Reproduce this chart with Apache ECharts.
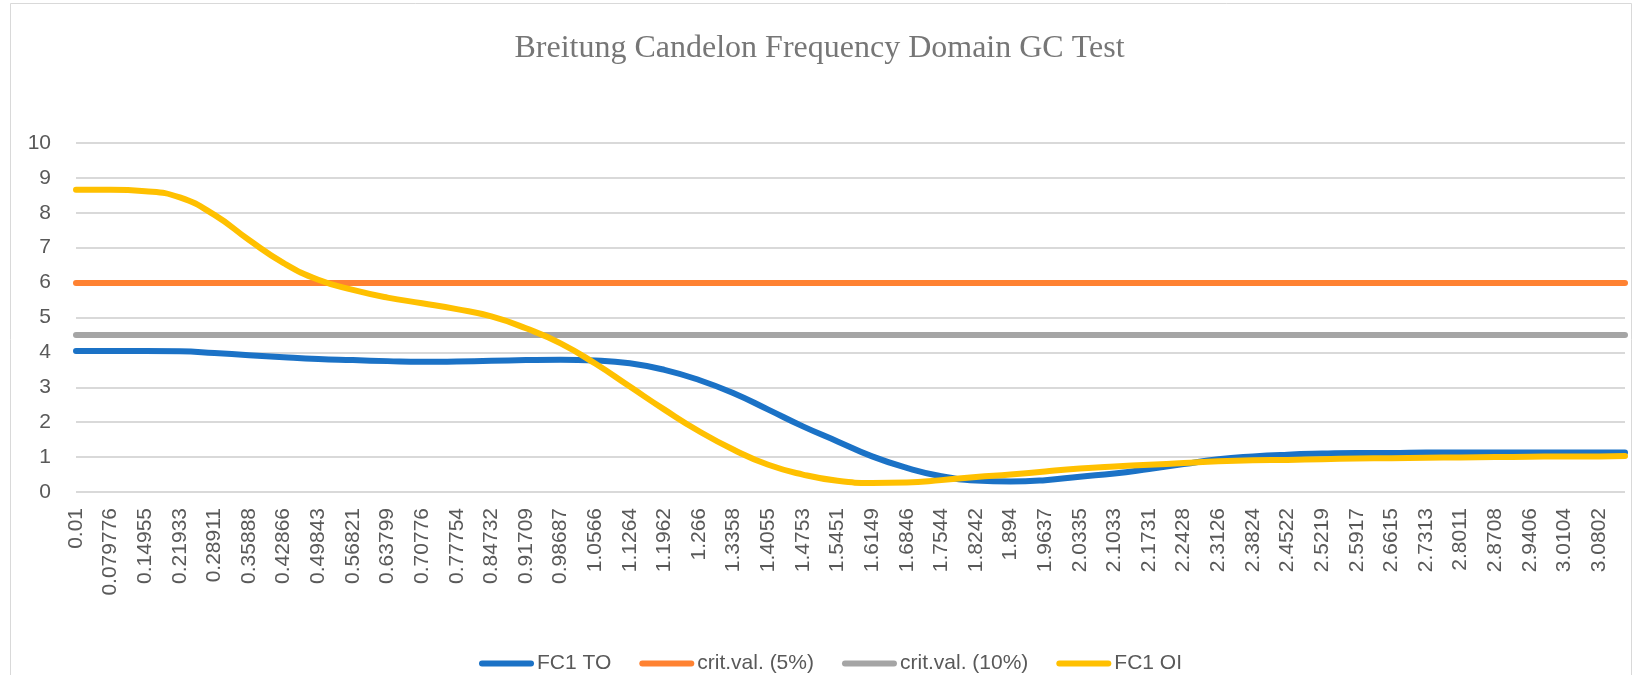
<!DOCTYPE html>
<html>
<head>
<meta charset="utf-8">
<title>Breitung Candelon Frequency Domain GC Test</title>
<script src="https://cdn.jsdelivr.net/npm/echarts@6/dist/echarts.min.js"></script>
<style>
  html, body { margin: 0; padding: 0; background: #fff; }
  #chart { width: 1639px; height: 675px; }
</style>
</head>
<body>
<div id="chart"></div>
<script>
// frequency tick labels as shown on the x axis
const tickLabels = [
  '0.01', '0.079776', '0.14955', '0.21933', '0.28911', '0.35888', '0.42866', '0.49843',
  '0.56821', '0.63799', '0.70776', '0.77754', '0.84732', '0.91709', '0.98687', '1.0566',
  '1.1264', '1.1962', '1.266', '1.3358', '1.4055', '1.4753', '1.5451', '1.6149',
  '1.6846', '1.7544', '1.8242', '1.894', '1.9637', '2.0335', '2.1033', '2.1731',
  '2.2428', '2.3126', '2.3824', '2.4522', '2.5219', '2.5917', '2.6615', '2.7313',
  '2.8011', '2.8708', '2.9406', '3.0104', '3.0802'
];
// last frequency of the grid (no label)
const lastFreq = 3.1325;

// test statistics read at each labelled frequency (+ last point)
const fc1TO = [
  4.04, 4.04, 4.04, 4.03, 3.98, 3.92, 3.86, 3.81, 3.78, 3.75, 3.73, 3.74, 3.76, 3.78, 3.79, 3.77,
  3.69, 3.50, 3.21, 2.83, 2.36, 1.88, 1.45, 1.02, 0.69, 0.45, 0.33, 0.30, 0.34, 0.44, 0.53, 0.66,
  0.80, 0.94, 1.02, 1.07, 1.10, 1.12, 1.12, 1.13, 1.13, 1.13, 1.13, 1.13, 1.13, 1.13
];
const fc1OI = [
  8.66, 8.66, 8.62, 8.44, 7.94, 7.22, 6.56, 6.08, 5.79, 5.57, 5.41, 5.24, 5.03, 4.69, 4.26, 3.68,
  3.02, 2.36, 1.74, 1.21, 0.78, 0.50, 0.32, 0.26, 0.27, 0.34, 0.43, 0.50, 0.59, 0.67, 0.73, 0.78,
  0.83, 0.88, 0.91, 0.92, 0.94, 0.96, 0.97, 0.98, 0.99, 1.00, 1.01, 1.02, 1.02, 1.03
];
const crit5 = 5.99;
const crit10 = 4.5;

const freqs = tickLabels.map(Number).concat([lastFreq]);

const labelFont = 'Liberation Sans';
const textGray = '#595959';
// capsule shaped legend key, like a thick line with round ends
const legendKey = 'path://M3,0 L52,0 A3,3 0 0 1 52,6 L3,6 A3,3 0 0 1 3,0 Z';

function pairs(vals) {
  return freqs.map((f, i) => [f, vals[i]]);
}
function flat(v) {
  return freqs.map((f) => [f, v]);
}

function lineSeries(name, color, data) {
  return {
    name: name,
    type: 'line',
    data: data,
    smooth: true,
    symbol: 'none',
    lineStyle: { color: color, width: 6, cap: 'round', join: 'round' },
    itemStyle: { color: color },
    emphasis: { disabled: true }
  };
}

document.addEventListener('DOMContentLoaded', () => {
  var myChart = echarts.init(document.getElementById('chart'), null, { renderer: 'canvas' });

  var option = {
    animation: false,
    backgroundColor: '#fff',
    title: {
      text: 'Breitung Candelon Frequency Domain GC Test',
      left: 'center',
      top: 33,
      padding: 0,
      textStyle: {
        fontFamily: 'Liberation Serif',
        fontSize: 32,
        fontWeight: 'normal',
        color: '#767676'
      }
    },
    legend: {
      left: 479,
      top: 653,
      padding: 0,
      icon: legendKey,
      itemWidth: 55,
      itemHeight: 6,
      itemGap: 28,
      textStyle: { fontFamily: labelFont, fontSize: 21, color: textGray, padding: [0, 0, 0, -2] },
      data: ['FC1 TO', 'crit.val. (5%)', 'crit.val. (10%)', 'FC1 OI']
    },
    grid: {
      left: 76,
      right: 14,
      top: 143,
      bottom: 183,
      containLabel: false
    },
    xAxis: {
      type: 'value',
      min: freqs[0],
      max: lastFreq,
      axisLine: { show: false },
      axisTick: { show: false },
      splitLine: { show: false },
      axisLabel: {
        customValues: tickLabels.map(Number),
        formatter: (v) => {
          var idx = tickLabels.map(Number).indexOf(v);
          return idx >= 0 ? tickLabels[idx] : '';
        },
        rotate: 90,
        margin: 16,
        fontFamily: labelFont,
        fontSize: 21,
        color: textGray
      }
    },
    yAxis: {
      type: 'value',
      min: 0,
      max: 10,
      interval: 1,
      axisLine: { show: false },
      axisTick: { show: false },
      splitLine: { lineStyle: { color: '#d9d9d9', width: 2 } },
      axisLabel: {
        margin: 25,
        fontFamily: labelFont,
        fontSize: 21,
        color: textGray
      }
    },
    graphic: [{
      type: 'rect',
      shape: { x: 10.5, y: 3.5, width: 1621, height: 700 },
      style: { fill: 'none', stroke: '#d9d9d9', lineWidth: 1 },
      silent: true
    }],
    series: [
      lineSeries('FC1 TO', '#1b72c6', pairs(fc1TO)),
      lineSeries('crit.val. (5%)', '#ff8232', flat(crit5)),
      lineSeries('crit.val. (10%)', '#a5a5a5', flat(crit10)),
      lineSeries('FC1 OI', '#ffc000', pairs(fc1OI))
    ]
  };

  myChart.setOption(option);
});
</script>
</body>
</html>
